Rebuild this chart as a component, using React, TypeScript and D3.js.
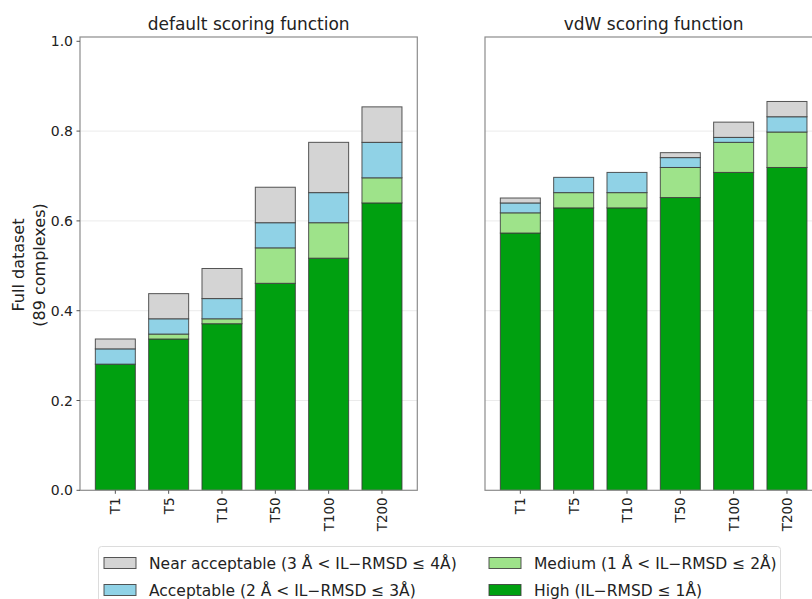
import React from "react";
import * as d3 from "d3";

const categories = ["T1", "T5", "T10", "T50", "T100", "T200"];
// fraction of complexes per quality level (not cumulative)
const defaultHigh = [0.281, 0.337, 0.371, 0.461, 0.517, 0.640];
const defaultMedium = [0.0, 0.011, 0.011, 0.079, 0.079, 0.056];
const defaultAcceptable = [0.034, 0.034, 0.045, 0.056, 0.067, 0.079];
const defaultNear = [0.022, 0.056, 0.067, 0.079, 0.112, 0.079];

const vdwHigh = [0.573, 0.629, 0.629, 0.652, 0.708, 0.719];
const vdwMedium = [0.045, 0.034, 0.034, 0.067, 0.067, 0.079];
const vdwAcceptable = [0.022, 0.034, 0.045, 0.022, 0.011, 0.034];
const vdwNear = [0.011, 0.0, 0.0, 0.011, 0.034, 0.034];

const yTicks = [0.0, 0.2, 0.4, 0.6, 0.8, 1.0];
const levels = ["High", "Medium", "Acceptable", "Near"];
const colors: Record<string, string> = {
  High: "#00a010",
  Medium: "#9ee38a",
  Acceptable: "#90d2e6",
  Near: "#d4d4d4",
};
const legendItems = [
  { key: "Near", label: "Near acceptable (3 Å < IL−RMSD ≤ 4Å)" },
  { key: "Acceptable", label: "Acceptable (2 Å < IL−RMSD ≤ 3Å)" },
  { key: "Medium", label: "Medium (1 Å < IL−RMSD ≤ 2Å)" },
  { key: "High", label: "High (IL−RMSD ≤ 1Å)" },
];

const font = "DejaVu Sans, sans-serif";
const W = 812;
const H = 599;
const top = 37;
const bottom = 490.3;
const panelW = 337.3;

function Panel({ x0, title, series, showY }: { x0: number; title: string; series: number[][]; showY: boolean }) {
  const x = d3
    .scaleLinear()
    .domain([-0.6625, 5.6625])
    .range([x0, x0 + panelW]);
  const y = d3.scaleLinear().domain([0, 1.0096]).range([bottom, top]);
  const bw = (x(0.75) - x(0));
  const stack = categories.map((c, i) => {
    let acc = 0;
    return series.map((s, li) => {
      const v0 = acc;
      acc += s[i];
      return { level: levels[li], v0, v1: acc };
    });
  });
  return (
    <g>
      <defs>
        <clipPath id={`clip-${x0}`}>
          <rect x={x0} y={top} width={panelW} height={bottom - top} />
        </clipPath>
      </defs>
      {yTicks.slice(1, 5).map((t) => (
        <line key={t} x1={x0} x2={x0 + panelW} y1={y(t)} y2={y(t)} stroke="#ebebeb" strokeWidth={1} />
      ))}
      <g clipPath={`url(#clip-${x0})`}>
        {stack.map((segs, i) =>
          segs.map((s) =>
            s.v1 - s.v0 > 0 ? (
              <rect
                key={categories[i] + s.level}
                x={x(i) - bw / 2}
                y={y(s.v1)}
                width={bw}
                height={y(s.v0) - y(s.v1)}
                fill={colors[s.level]}
                stroke="#3a3a3a"
                strokeWidth={1}
                strokeOpacity={0.85}
              />
            ) : null
          )
        )}
      </g>
      <rect x={x0} y={top} width={panelW} height={bottom - top} fill="none" stroke="#8c8c8c" strokeWidth={1.2} />
      {categories.map((c, i) => (
        <g key={c}>
          <line x1={x(i)} x2={x(i)} y1={bottom} y2={bottom + 3.5} stroke="#555" />
          <text
            transform={`translate(${x(i) + 5},${bottom + 7}) rotate(-90)`}
            textAnchor="end"
            fontSize={13.5}
            fill="#222"
            fontFamily={font}
          >
            {c}
          </text>
        </g>
      ))}
      {showY &&
        yTicks.map((t) => (
          <g key={t}>
            <line x1={x0 - 3.5} x2={x0} y1={y(t)} y2={y(t)} stroke="#555" />
            <text x={x0 - 7} y={y(t) + 5} textAnchor="end" fontSize={14} fill="#222" fontFamily={font}>
              {t.toFixed(1)}
            </text>
          </g>
        ))}
      <text x={x0 + panelW / 2} y={30} textAnchor="middle" fontSize={17} fill="#222" fontFamily={font}>
        {title}
      </text>
    </g>
  );
}

export default function App() {
  return (
    <svg width={W} height={H} style={{ position: "absolute", left: 0, top: 0, background: "#fff" }}>
      <rect width={W} height={H} fill="#fff" />
      <Panel
        x0={80}
        title="default scoring function"
        series={[defaultHigh, defaultMedium, defaultAcceptable, defaultNear]}
        showY={true}
      />
      <Panel
        x0={485}
        title="vdW scoring function"
        series={[vdwHigh, vdwMedium, vdwAcceptable, vdwNear]}
        showY={false}
      />
      <g fontFamily={font} fontSize={16} fill="#222">
        <text transform="translate(24,265) rotate(-90)" textAnchor="middle">Full dataset</text>
        <text transform="translate(44.5,265) rotate(-90)" textAnchor="middle">(89 complexes)</text>
      </g>
      <rect x={98.5} y={546.5} width={682} height={70} rx={3} fill="#fff" stroke="#dcdcdc" strokeWidth={1} />
      {legendItems.map((it, i) => {
        const col = Math.floor(i / 2);
        const row = i % 2;
        const hx = col === 0 ? 104 : 489;
        const cy = row === 0 ? 563 : 590;
        return (
          <g key={it.key}>
            <rect x={hx} y={cy - 5.5} width={32} height={11} fill={colors[it.key]} stroke="#3a3a3a" strokeOpacity={0.85} strokeWidth={1} />
            <text x={hx + 45} y={cy + 5.5} fontSize={15.5} fill="#222" fontFamily={font}>
              {it.label}
            </text>
          </g>
        );
      })}
    </svg>
  );
}
